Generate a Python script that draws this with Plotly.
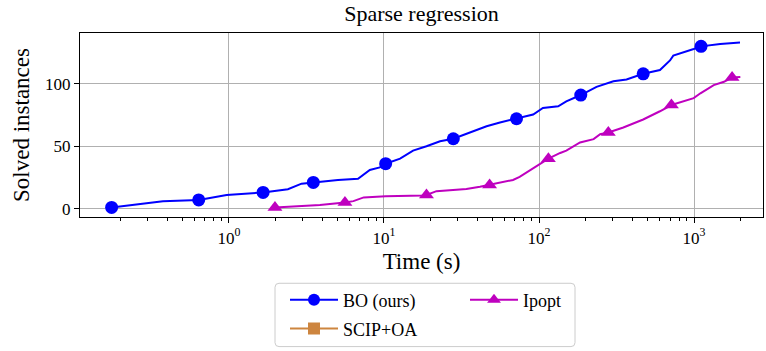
import plotly.graph_objects as go

# Cumulative number of solved instances against wall-clock time (s)
bo_time = [0.175, 0.24, 0.375, 0.638, 0.966, 1.66, 2.4, 2.94, 3.5, 5.05, 6.8, 7.5, 8.1, 9.4,
           10.25, 12.7, 15.4, 18.8, 23.0, 28.0, 35.8, 45.9, 56.0, 71.6, 91.7, 106.0, 133.0,
           150.0, 186.0, 235.0, 302.0, 367.0, 470.0, 603.0, 700.0, 735.0, 855.0, 995.0,
           1110.0, 1475.0, 1980.0]
bo_solved = [1, 3, 6, 7, 11, 13, 15.5, 20, 21, 23, 24, 28, 31, 33,
             36, 40, 46.5, 50, 54, 56, 61, 66, 69, 72, 75.4, 80.6, 82,
             86, 91, 97.6, 102, 103.5, 108, 111, 118.7, 122.6, 125, 127.9,
             130, 131.8, 133]
bo_marker_idx = [0, 3, 5, 8, 14, 19, 23, 28, 32, 38]

ipopt_time = [1.98, 3.86, 5.6, 6.35, 7.4, 10.25, 17.9, 18.8, 21.8, 34.0, 41.6, 48.0, 68.0,
              75.0, 91.7, 101.0, 115.0, 137.0, 150.0, 184.0, 225.0, 248.0, 280.0, 350.0,
              470.0, 603.0, 715.0, 995.0, 1100.0, 1340.0, 1560.0, 1760.0, 1990.0]
ipopt_solved = [1, 3, 5, 6, 9, 10, 10.5, 11, 14, 15.7, 17.6, 19, 23,
                25.5, 32, 35.4, 40, 44.6, 46.5, 53, 55.7, 59.6, 61, 65,
                71.4, 78, 83, 88.5, 92.4, 99, 101.6, 105, 105.5]
ipopt_marker_idx = [0, 2, 7, 11, 16, 22, 26, 31]

x_tickvals = [1, 10, 100, 1000]
x_ticktext = ["10<sup>0</sup>", "10<sup>1</sup>", "10<sup>2</sup>", "10<sup>3</sup>"]
y_tickvals = [0, 50, 100]

BLUE = "#0000ff"
MAGENTA = "#bf00bf"
ORANGE = "#cd853f"
FONT = "Liberation Serif"

# Plot area in pixels (figure is 766 x 351)
PL, PR, PT, PB = 80, 763, 33, 219
W, H = PR - PL, PB - PT


def px_x(x):
    return (x - PL) / W


def px_y(y):
    return (PB - y) / H


fig = go.Figure()

# Lines (no markers) plus sparse markers, with a legend-only entry combining both
fig.add_trace(go.Scatter(x=bo_time, y=bo_solved, mode="lines",
                         line=dict(color=BLUE, width=2), showlegend=False))
fig.add_trace(go.Scatter(x=[bo_time[i] for i in bo_marker_idx],
                         y=[bo_solved[i] for i in bo_marker_idx], mode="markers",
                         marker=dict(color=BLUE, size=13, symbol="circle"), showlegend=False))
fig.add_trace(go.Scatter(x=ipopt_time, y=ipopt_solved, mode="lines",
                         line=dict(color=MAGENTA, width=2), showlegend=False))
fig.add_trace(go.Scatter(x=[ipopt_time[i] for i in ipopt_marker_idx],
                         y=[ipopt_solved[i] for i in ipopt_marker_idx], mode="markers",
                         marker=dict(color=MAGENTA, size=13, symbol="triangle-up"),
                         showlegend=False))

# Legend entries
fig.add_trace(go.Scatter(x=[None], y=[None], mode="lines+markers", name="BO (ours)",
                         line=dict(color=BLUE, width=2),
                         marker=dict(color=BLUE, size=12, symbol="circle"), legend="legend"))
fig.add_trace(go.Scatter(x=[None], y=[None], mode="lines+markers", name="SCIP+OA",
                         line=dict(color=ORANGE, width=2),
                         marker=dict(color=ORANGE, size=12, symbol="square"), legend="legend2"))
fig.add_trace(go.Scatter(x=[None], y=[None], mode="lines+markers", name="Ipopt",
                         line=dict(color=MAGENTA, width=2),
                         marker=dict(color=MAGENTA, size=12, symbol="triangle-up"),
                         legend="legend3"))

leg_common = dict(bgcolor="rgba(0,0,0,0)", borderwidth=0, itemwidth=48,
                  font=dict(family=FONT, size=18, color="black"),
                  xanchor="left", yanchor="middle")

# Rounded legend frame
bx0, bx1, by0, by1 = px_x(275), px_x(575), px_y(350), px_y(286)
rx, ry = 4 / W, 4 / H
frame_path = (f"M{bx0 + rx},{by1} L{bx1 - rx},{by1} Q{bx1},{by1} {bx1},{by1 - ry} "
              f"L{bx1},{by0 + ry} Q{bx1},{by0} {bx1 - rx},{by0} "
              f"L{bx0 + rx},{by0} Q{bx0},{by0} {bx0},{by0 + ry} "
              f"L{bx0},{by1 - ry} Q{bx0},{by1} {bx0 + rx},{by1} Z")

fig.update_layout(
    width=766, height=351,
    margin=dict(l=PL, r=766 - PR, t=PT, b=351 - PB),
    paper_bgcolor="white", plot_bgcolor="white",
    title=dict(text="Sparse regression", x=0.5 * (PL + PR) / 766, xanchor="center",
               y=1 - 13 / 351, yanchor="middle", font=dict(family=FONT, size=22, color="black")),
    font=dict(family=FONT, color="black"),
    legend=dict(x=px_x(285), y=px_y(303), **leg_common),
    legend2=dict(x=px_x(285), y=px_y(332), **leg_common),
    legend3=dict(x=px_x(465), y=px_y(303), **leg_common),
    shapes=[dict(type="path", xref="paper", yref="paper", path=frame_path,
                 line=dict(color="#cccccc", width=1), fillcolor="rgba(255,255,255,0.8)",
                 layer="below")],
)

fig.update_xaxes(
    type="log", range=[-0.961, 3.445],
    tickvals=x_tickvals, ticktext=x_ticktext,
    ticks="outside", ticklen=5, tickwidth=1, tickcolor="black",
    tickfont=dict(family=FONT, size=17, color="black"),
    showgrid=True, gridcolor="#b0b0b0", gridwidth=1,
    showline=True, linecolor="black", linewidth=1.3, mirror=True,
    zeroline=False,
    minor=dict(tickvals=[v * m for v in [0.1, 1, 10, 100, 1000] for m in range(2, 10)],
               ticks="outside", ticklen=3, tickcolor="black", showgrid=False),
    title=dict(text="Time (s)", font=dict(family=FONT, size=23, color="black"), standoff=6),
)
fig.update_yaxes(
    range=[-6.7, 140.7],
    tickvals=y_tickvals,
    ticks="outside", ticklen=5, tickwidth=1, tickcolor="black",
    tickfont=dict(family=FONT, size=17, color="black"),
    showgrid=True, gridcolor="#b0b0b0", gridwidth=1,
    showline=True, linecolor="black", linewidth=1.3, mirror=True,
    zeroline=False,
    title=dict(text="Solved instances", font=dict(family=FONT, size=23, color="black"), standoff=8),
)

fig.write_html("out.html")
